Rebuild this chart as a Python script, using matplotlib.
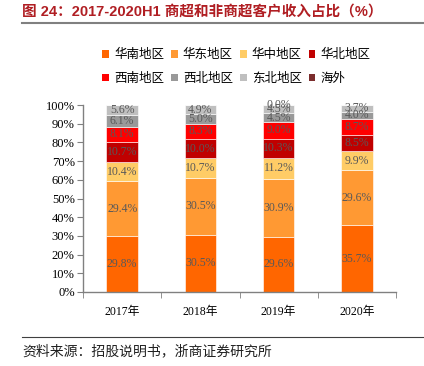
import matplotlib
matplotlib.use("Agg")
import matplotlib.pyplot as plt
from matplotlib.patches import Patch
import numpy as np

plt.rcParams['font.family'] = ['Liberation Serif', 'Noto Sans CJK SC']

years = ['2017年', '2018年', '2019年', '2020年']
regions = ['华南地区', '华东地区', '华中地区', '华北地区', '西南地区', '西北地区', '东北地区', '海外']
huanan = [29.8, 30.5, 29.6, 35.7]
huadong = [29.4, 30.5, 30.9, 29.6]
huazhong = [10.4, 10.7, 11.2, 9.9]
huabei = [10.7, 10.0, 10.3, 8.5]
xinan = [8.1, 8.3, 9.0, 8.7]
xibei = [6.1, 5.0, 4.5, 4.0]
dongbei = [5.6, 4.9, 4.5, 3.7]
haiwai = [np.nan, np.nan, 0.0, np.nan]
series = [huanan, huadong, huazhong, huabei, xinan, xibei, dongbei, haiwai]
colors = ['#FF6600', '#FF9933', '#FFCC66', '#C00000', '#FF0000', '#999999', '#BFBFBF', '#7B2D2D']
yticks = [0, 10, 20, 30, 40, 50, 60, 70, 80, 90, 100]

fig = plt.figure(figsize=(4.24, 3.66), dpi=100)
ax = fig.add_axes([83/424, 1-292/366, (396-83)/424, (292-105)/366])

x = np.arange(len(years))
bottom = np.zeros(len(years))
for vals, col in zip(series, colors):
    v = np.array(vals, dtype=float)
    vv = np.nan_to_num(v)
    ax.bar(x, vv, width=0.4, bottom=bottom, color=col, edgecolor='white', linewidth=0.4)
    for i in range(len(years)):
        if not np.isnan(v[i]):
            ax.text(x[i], bottom[i] + vv[i]/2, f'{v[i]:.1f}%', ha='center', va='center',
                    fontsize=8.5, color='#595959', family='Liberation Serif')
    bottom += vv

ax.set_xlim(-0.5, 3.5)
ax.set_ylim(0, 100)
ax.set_yticks(yticks)
ax.set_yticklabels([f'{t}%' for t in yticks], fontsize=9)
ax.set_xticks(x)
ax.set_xticklabels(years, fontsize=8.5)
ax.set_xticks(np.arange(-0.5, 4, 1), minor=True)
ax.tick_params(axis='x', which='major', length=0, pad=10)
ax.tick_params(axis='x', which='minor', length=4, color='#808080', direction='out')
ax.tick_params(axis='y', length=4, color='#808080', direction='out', pad=2)
for s in ['top', 'right']:
    ax.spines[s].set_visible(False)
for s in ['left', 'bottom']:
    ax.spines[s].set_color('#808080')
    ax.spines[s].set_linewidth(1.0)

order = [0, 4, 1, 5, 2, 6, 3, 7]
handles = [Patch(facecolor=colors[k], edgecolor='none') for k in order]
labels = [regions[k] for k in order]
leg = fig.legend(handles, labels, ncol=4, loc='upper left', bbox_to_anchor=(91/424, 1-37/366),
                 frameon=False, prop={'family': ['Noto Sans CJK SC'], 'size': 9},
                 handlelength=0.55, handleheight=0.55, handletextpad=0.4,
                 columnspacing=0.55, labelspacing=0.85)

fig.text(22/424, 1-12/366, '图 24：2017-2020H1 商超和非商超客户收入占比（%）', fontsize=10.5,
         fontweight='bold', color='#B01E23', family=['Liberation Sans', 'Noto Sans CJK SC'],
         va='center', ha='left')
fig.add_artist(plt.Line2D([22/424, 1], [1-23/366, 1-23/366], color='#808080', linewidth=1.5))
fig.add_artist(plt.Line2D([22/424, 1], [1-337/366, 1-337/366], color='#404040', linewidth=0.8))
fig.text(22/424, 1-351/366, '资料来源：招股说明书，浙商证券研究所', fontsize=10,
         family=['Noto Sans CJK SC'], va='center', ha='left', color='#202020')

fig.savefig('out.png', dpi=100)
